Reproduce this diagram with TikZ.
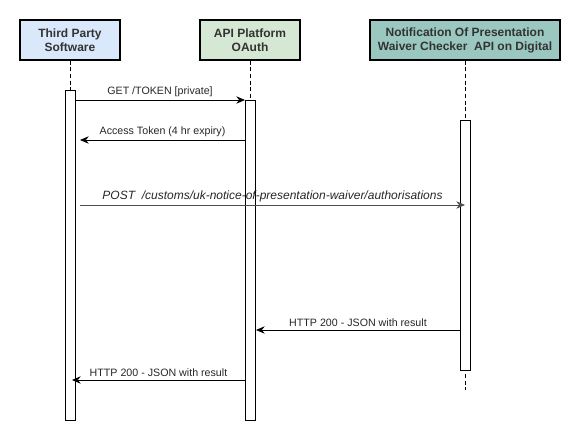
\documentclass[tikz,border=0pt]{standalone}
\usepackage{fontspec}
\setmainfont{Liberation Sans}
\usetikzlibrary{arrows.meta}

\begin{document}
\begin{tikzpicture}[x=0.75pt,y=-0.75pt]
   \tikzstyle{actor}=[draw, thick, minimum width=75pt, minimum height=30pt, inner sep=1pt, align=center, font=\fontsize{9}{10.5}\selectfont\bfseries, text=black!80]
   \tikzstyle{act}=[draw, fill=white, minimum width=7.5pt, inner sep=0pt]
   \tikzstyle{life}=[dashed, dash pattern=on 3pt off 2pt]
   \tikzstyle{msg}=[-{Stealth[length=6.5pt,width=5.5pt]}, semithick]
   \tikzstyle{txt}=[above, inner sep=2pt, font=\fontsize{8}{9}\selectfont, text=black!85]

\useasboundingbox (0,0) rectangle (581,441);

% participants
\node[actor, fill={rgb,255:red,218;green,232;blue,252}] (tps) at (70,40) {Third Party\\Software};
\node[actor, fill={rgb,255:red,213;green,232;blue,212}] (oauth) at (250,40) {API Platform\\OAuth};
\node[actor, fill={rgb,255:red,154;green,199;blue,191}, minimum width=142.5pt] (api) at (465,40) {Notification Of Presentation\\Waiver Checker\ \ API on Digital};

% lifelines
\draw[life] (tps.south) -- (70,90);
\draw[life] (oauth.south) -- (250,100);
\draw[life] (api.south) -- (465,390);

% activations
\node[act, minimum height=247.5pt] (tpsact) at (70,255) {};
\node[act, minimum height=240pt] (oauthact) at (250,260) {};
\node[act, minimum height=187.5pt] (apiact) at (465,245) {};

% message ends
\coordinate (m1a) at (75,100);  \coordinate (m1b) at (245,100);
\coordinate (m2a) at (245,140); \coordinate (m2b) at (80,140);
\coordinate (m3a) at (80,205);  \coordinate (m3b) at (465,205);
\coordinate (m4a) at (460,330); \coordinate (m4b) at (256,330);
\coordinate (m5a) at (245,380); \coordinate (m5b) at (72,380);

% messages
\draw[msg] (m1a) -- node[txt] {GET /TOKEN [private]} (m1b);
\draw[msg] (m2a) -- node[txt] {Access Token (4 hr expiry)} (m2b);
\draw[msg, draw=black!70] (m3a) -- node[txt, font=\fontsize{9}{10.5}\selectfont\itshape] {POST\ \ /customs/uk-notice-of-presentation-waiver/authorisations} (m3b);
\draw[msg] (m4a) -- node[txt] {HTTP 200 - JSON with result} (m4b);
\draw[msg] (m5a) -- node[txt] {HTTP 200 - JSON with result} (m5b);

\end{tikzpicture}
\end{document}
